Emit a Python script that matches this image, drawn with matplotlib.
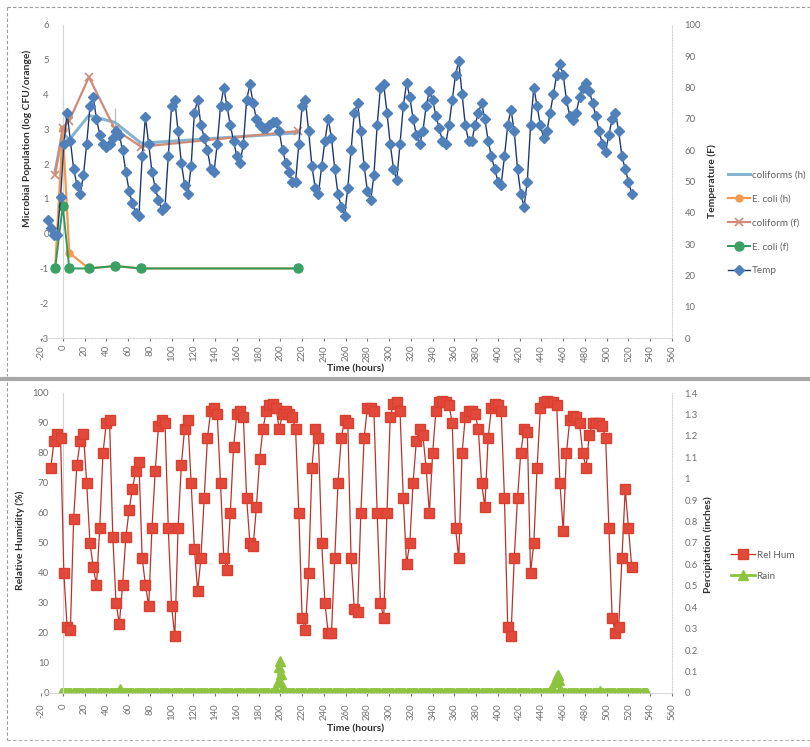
import numpy as np
import matplotlib
matplotlib.use("Agg")
import matplotlib.pyplot as plt
from matplotlib.lines import Line2D

plt.rcParams['font.family'] = ['Lato', 'DejaVu Sans']

# ---------------- data ----------------
x_ticks = list(range(-20, 561, 20))

# temperature (F), one reading every 3 h starting at hour -14
temp_start_hour = -14
temp_step_hours = 3
temp_f = [
    37.7, 35, 33, 33, 45, 62, 72, 63, 54, 49,
    46, 52, 62, 74, 77, 70, 65, 62, 61, 62,
    64, 66, 65, 60, 53, 47, 43, 40, 39, 58,
    70.6, 62, 53, 48, 44, 41, 42, 58, 74, 76,
    66, 56, 49, 46, 55, 72, 76, 68, 64, 60,
    54, 53, 62, 74, 80, 74, 68, 63, 58, 56,
    62, 76, 81, 75, 70, 68, 67, 67, 68, 69,
    69, 66, 60, 56, 53, 50, 50, 62, 74, 76,
    66, 55, 48, 46, 55, 63, 70, 64, 54, 46,
    42, 39, 48, 60, 72, 75, 66, 55, 47, 44,
    52, 68, 80, 81, 72, 62, 54, 50.5, 62, 74,
    81.5, 77, 70, 65, 62, 66, 74, 79, 76, 71,
    67, 63, 62, 68, 76, 84, 88.5, 78, 68, 63,
    63, 68, 72, 75, 70, 63, 58, 54, 50, 49,
    58, 68, 73, 66, 54, 46, 42, 50, 68, 80,
    74, 68, 64, 66, 72, 78, 84, 87.5, 84, 76,
    71, 69.5, 72, 77, 80, 81.5, 79, 75, 71, 66,
    62, 59.5, 65, 70, 72, 66, 58, 54, 50, 46,
]

# relative humidity (%), one reading every 3 h starting at hour -11
rh_start_hour = -11
rh_step_hours = 3
rel_hum = [
    75, 84, 86.5, 85, 40, 22, 21, 58, 76, 84,
    86.5, 70, 50, 42, 36, 55, 80, 90, 91, 52,
    30, 23, 36, 52, 61, 68, 74, 77, 45, 36,
    29, 55, 74, 89, 91, 90, 55, 29, 19, 55,
    76, 88, 91, 70, 48, 34, 45, 65, 85, 94,
    95, 93, 70, 45, 41, 60, 82, 93, 94, 92,
    65, 50, 49, 62, 78, 88, 94, 96, 96.5, 95,
    88, 93, 94, 93, 92, 88, 60, 25, 21, 40,
    75, 88, 85, 50, 30, 20, 20, 45, 70, 85,
    91, 90, 45, 28, 27, 60, 85, 95, 95, 94,
    60, 30, 25, 60, 92, 96.5, 97, 94, 65, 43,
    50, 70, 84, 88, 86, 75, 60, 80, 94, 97,
    97.5, 97, 96, 90, 55, 45, 80, 92, 94, 94,
    93, 88, 70, 62, 85, 95, 96.5, 96, 94, 65,
    22, 19, 45, 65, 80, 88, 87, 40, 50, 75,
    95, 97, 97.5, 97, 97, 96, 70, 54, 80, 91,
    92.5, 92, 90, 80, 75, 86, 90, 90, 90, 89,
    85, 55, 25, 20, 22, 45, 68, 55, 42,
]

# rain (inches): hourly record, zero except the listed hours
rain_first_hour = -2
rain_last_hour = 537
rain_event_hours = [53, 198, 199, 200, 201, 202,
                    448, 450, 452, 453, 454, 455, 456, 457, 494]
rain_event_inches = [0.02, 0.05, 0.12, 0.15, 0.09, 0.03,
                     0.01, 0.03, 0.05, 0.06, 0.08, 0.085, 0.06, 0.02, 0.01]

# microbial populations (log CFU/orange)
micro_hours = [-7, 0, 6, 24, 48, 72, 216]
coliforms_h = [1.8, 2.9, 2.7, 3.4, 3.2, 2.6, 2.9]
ecoli_h = [-1.0, 3.0, -0.55, -1.0, -0.93, -1.0, -1.0]
coliform_f = [1.7, 3.05, 3.25, 4.5, 3.0, 2.5, 2.95]
coliform_f_err = [0, 0.75, 0, 0, 0.6, 0, 0]
ecoli_f = [-1.0, 0.8, -1.0, -1.0, -0.93, -1.0, -1.0]

micro_yticks = list(range(-3, 7))
temp_yticks = list(range(0, 101, 10))
rh_yticks = list(range(0, 101, 10))
rain_yticks = [0, 0.1, 0.2, 0.3, 0.4, 0.5, 0.6, 0.7, 0.8, 0.9, 1, 1.1, 1.2, 1.3, 1.4]
rain_yticklabels = ["0", "0.1", "0.2", "0.3", "0.4", "0.5", "0.6", "0.7", "0.8",
                    "0.9", "1", "1.1", "1.2", "1.3", "1.4"]

# --------------- derived arrays -------------
temp_hours = temp_start_hour + temp_step_hours * np.arange(len(temp_f))
rh_hours = rh_start_hour + rh_step_hours * np.arange(len(rel_hum))
rain_hours = np.arange(rain_first_hour, rain_last_hour + 1)
rain_in = np.zeros(len(rain_hours))
for h, v in zip(rain_event_hours, rain_event_inches):
    rain_in[h - rain_first_hour] = v

# --------------- figure ---------------------
W, H = 810, 747
fig = plt.figure(figsize=(W / 100, H / 100), dpi=100)


def fx(px):
    return px / W


def fy(py):
    return 1 - py / H


TICK_C = '#707070'
TITLE_C = '#303030'
SPINE_C = '#d4d4d4'
TFS = 6.9
LFS = 7.1


def style_axes(ax, twin, xpad):
    ax.set_xlim(-20, 560)
    ax.set_xticks(x_ticks)
    ax.set_xticklabels([str(v) for v in x_ticks], rotation=90)
    ax.tick_params(axis='x', labelsize=TFS, colors=TICK_C, length=2, pad=xpad)
    ax.spines['top'].set_visible(False)
    ax.spines['right'].set_visible(False)
    ax.spines['left'].set_position(('data', 0))
    ax.spines['left'].set_color(SPINE_C)
    ax.spines['left'].set_linewidth(0.8)
    ax.spines['bottom'].set_color(SPINE_C)
    ax.spines['bottom'].set_linestyle((0, (1, 1.5)))
    ax.tick_params(axis='y', labelsize=TFS, colors=TICK_C, length=0, pad=10)
    for s in ['left', 'top', 'bottom']:
        twin.spines[s].set_visible(False)
    twin.spines['right'].set_color(SPINE_C)
    twin.spines['right'].set_linestyle((0, (1, 1.5)))
    twin.tick_params(axis='y', labelsize=TFS, colors=TICK_C, length=0, pad=9)


# ---------- top chart ----------
ax1 = fig.add_axes([fx(41), fy(338), fx(672) - fx(41), fy(25) - fy(338)])
ax1.set_ylim(-3, 6)
ax1.set_yticks(micro_yticks)
ax1.set_yticklabels([str(v) for v in micro_yticks])
ax1b = ax1.twinx()
ax1b.set_ylim(0, 100)
ax1b.set_yticks(temp_yticks)
style_axes(ax1, ax1b, 3)

c_colh = '#86b3cf'
c_ech = '#f39a4e'
c_colf = '#d08a78'
c_ecf = '#2f9a5e'
c_temp_line = '#1d3a70'
c_temp_mk = '#4f80ba'

ax1.errorbar(micro_hours, coliform_f, yerr=[np.zeros(len(coliform_f_err)), coliform_f_err],
             fmt='none', ecolor='#b8b8b8', elinewidth=0.9, capsize=0, zorder=1)
l_colh, = ax1.plot(micro_hours, coliforms_h, color=c_colh, lw=2.2, zorder=2)
l_ech, = ax1.plot(micro_hours, ecoli_h, color=c_ech, lw=1.6, marker='o', ms=5,
                  mfc=c_ech, mec=c_ech, zorder=3)
l_colf, = ax1.plot(micro_hours, coliform_f, color=c_colf, lw=1.6, marker='x', ms=6,
                   mew=1.2, zorder=3)
l_ecf, = ax1.plot(micro_hours, ecoli_f, color=c_ecf, lw=1.4, marker='o', ms=6.5,
                  mfc='#3aa064', mec='#3aa064', zorder=4)
l_temp, = ax1b.plot(temp_hours, temp_f, color=c_temp_line, lw=1.0, marker='D', ms=5.6,
                    mfc=c_temp_mk, mec=c_temp_mk, zorder=5)

fig.legend([l_colh, l_ech, l_colf, l_ecf, l_temp],
           ['coliforms (h)', 'E. coli (h)', 'coliform (f)', 'E. coli (f)', 'Temp'],
           loc='upper left', bbox_to_anchor=(fx(724), fy(167)), frameon=False,
           fontsize=LFS, labelspacing=1.5, handlelength=2.2, handletextpad=0.2,
           labelcolor='#606060', borderaxespad=0)

fig.text(fx(27), fy(138), 'Microbial Population (log CFU/orange)', rotation=90,
         ha='center', va='center', fontsize=7.4, fontweight='bold', color=TITLE_C)
fig.text(fx(712), fy(181), 'Temperature (F)', rotation=90,
         ha='center', va='center', fontsize=7.4, fontweight='bold', color=TITLE_C)
fig.text(fx(356), fy(369), 'Time (hours)', ha='center', va='center',
         fontsize=7.4, fontweight='bold', color=TITLE_C)

# ---------- bottom chart ----------
ax2 = fig.add_axes([fx(41), fy(693), fx(672) - fx(41), fy(393) - fy(693)])
ax2.set_ylim(0, 100)
ax2.set_yticks(rh_yticks)
ax2b = ax2.twinx()
ax2b.set_ylim(0, 1.4)
ax2b.set_yticks(rain_yticks)
ax2b.set_yticklabels(rain_yticklabels)
style_axes(ax2, ax2b, 5.5)
ax2b.set_zorder(ax2.get_zorder() - 1)
ax2.patch.set_visible(False)

c_rh = '#e2493b'
c_rain = '#8dc43f'
l_rain, = ax2b.plot(rain_hours, rain_in, color=c_rain, lw=2.0, marker='^', ms=7,
                    mfc=c_rain, mec=c_rain, zorder=2)
l_rh, = ax2.plot(rh_hours, rel_hum, color='#b8332a', lw=0.9, marker='s', ms=6.8,
                 mfc=c_rh, mec='#d8402f', zorder=3)

fig.legend([l_rh, l_rain], ['Rel Hum', 'Rain'],
           loc='upper left', bbox_to_anchor=(fx(727), fy(547)), frameon=False,
           fontsize=LFS, labelspacing=1.2, handlelength=2.4, handletextpad=0.2,
           labelcolor='#606060', borderaxespad=0)

fig.text(fx(20), fy(540), 'Relative Humidity (%)', rotation=90,
         ha='center', va='center', fontsize=7.4, fontweight='bold', color=TITLE_C)
fig.text(fx(708), fy(545), 'Percipitation (inches)', rotation=90,
         ha='center', va='center', fontsize=7.4, fontweight='bold', color=TITLE_C)
fig.text(fx(356), fy(729), 'Time (hours)', ha='center', va='center',
         fontsize=7.4, fontweight='bold', color=TITLE_C)

# ---------- chart frames ----------
def fline(x0, y0, x1, y1, **kw):
    fig.add_artist(Line2D([fx(x0), fx(x1)], [fy(y0), fy(y1)],
                          transform=fig.transFigure, **kw))

fline(7, 7, 7, 376, color='#9a9a9a', lw=0.8, ls=(0, (3, 2)))
fline(7, 7, 810, 7, color='#9a9a9a', lw=0.8, ls=(0, (3, 2)))
fline(0, 378.5, 810, 378.5, color='#a8a8a8', lw=3.0)
fline(7, 382, 7, 740, color='#9a9a9a', lw=0.8, ls=(0, (3, 2)))
fline(7, 740, 810, 740, color='#b0b0b0', lw=0.8, ls=(0, (3, 2)))

fig.savefig('out.png', dpi=100)
